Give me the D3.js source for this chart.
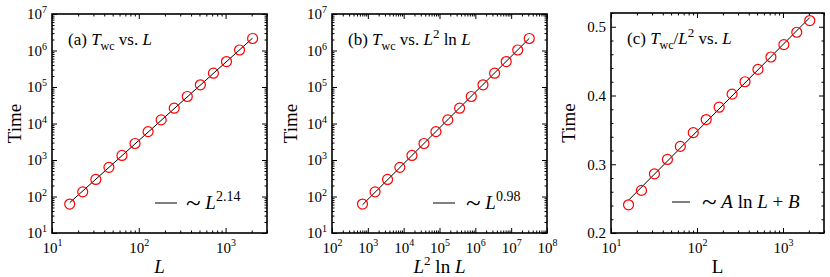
<!DOCTYPE html>
<html>
<head>
<meta charset="utf-8">
<script src="https://cdn.jsdelivr.net/npm/d3@7"></script>
<style>
body { margin: 0; background: #fff; }
text { font-family: "Liberation Serif", "Times New Roman", serif; }
</style>
</head>
<body>
<div id="chart"></div>
<script>
var sizeL = [16, 22.6, 32, 45.3, 64, 90.5, 128, 181, 256, 362, 512, 724, 1024, 1448, 2048];
var timeWC = [62, 134, 293, 629, 1335, 2830, 5980, 12550, 26300, 55000, 115000, 239000, 497000, 1032000, 2135000];
var ratioT = [0.241, 0.262, 0.286, 0.307, 0.326, 0.346, 0.365, 0.383, 0.402, 0.420, 0.438, 0.456, 0.474, 0.492, 0.509];
var expA = 2.14, expB = 0.98;
var yTicksC = [0.2, 0.3, 0.4, 0.5];

var svg = d3.select("#chart").append("svg")
    .attr("width", 830)
    .attr("height", 277);

function logTicks(dom) {
  var maj = [], min = [];
  for (var k = Math.floor(Math.log10(dom[0])); k <= Math.ceil(Math.log10(dom[1])); k++) {
    for (var m = 1; m < 10; m++) {
      var v = m * Math.pow(10, k);
      if (v < dom[0] * 0.999 || v > dom[1] * 1.001) continue;
      (m == 1 ? maj : min).push(v);
    }
  }
  return [maj, min];
}

// write text made of pieces: {t, i (italic), sub, sup, fs, dy}
function rich(sel, parts, fs) {
  sel.text(null);
  var shift = 0;
  parts.forEach(function(p) {
    var ts = sel.append("tspan").text(p.t);
    if (p.i) ts.attr("font-style", "italic");
    var target = p.sub ? 0.28 * fs : (p.sup ? -0.42 * fs : (p.dy || 0));
    if (target != shift) { ts.attr("dy", target - shift); shift = target; }
    if (p.sub || p.sup) ts.attr("font-size", p.fs || Math.round(fs * 0.7));
    else if (p.fs) ts.attr("font-size", p.fs);
  });
}

function powLabel(d) {
  var e = Math.round(Math.log10(d));
  rich(d3.select(this), [{t: "10"}, {t: String(e), sup: true, fs: 10}], 15);
}

function axes(g, x, y, w, h, xt, yt, ylab) {
  var list = [
    [d3.axisBottom(x), "translate(0," + h + ")", xt, true],
    [d3.axisTop(x), "translate(0,0)", xt, false],
    [d3.axisLeft(y), "translate(0,0)", yt, true],
    [d3.axisRight(y), "translate(" + w + ",0)", yt, false]
  ];
  list.forEach(function(a) {
    var ax = g.append("g").attr("transform", a[1]);
    ax.call(a[0].tickValues(a[2][1]).tickSize(-2.5).tickFormat(""));
    ax.select(".domain").remove();
    var mj = g.append("g").attr("transform", a[1]);
    mj.call(a[0].tickValues(a[2][0]).tickSize(-5).tickPadding(a[0] === list[0][0] ? 9 : 5).tickFormat(""));
    mj.select(".domain").remove();
    mj.attr("font-size", 15);
    if (!a[3]) { mj.selectAll("text").remove(); return; }
    if (a[0] === list[0][0]) mj.selectAll(".tick text").each(powLabel);
    else mj.selectAll(".tick text").each(ylab);
  });
  g.append("rect")
      .attr("width", w).attr("height", h)
      .attr("fill", "none").attr("stroke", "#000").attr("stroke-width", 1.6);
}

var tilde = {t: "~", fs: 27, dy: 3};
var panels = [
  {left: 52, top: 14, w: 215, h: 219, xdom: [10, 3000],
   xs: sizeL, title: [{t: "(a) "}, {t: "T", i: true}, {t: "wc", sub: true}, {t: " vs. "}, {t: "L", i: true}],
   xlab: [{t: "L", i: true}], tx: 21,
   leg: [tilde, {t: " "}, {t: "L", i: true}, {t: "2.14", sup: true, fs: 14}], lx: [103, 125, 134]},
  {left: 332, top: 14, w: 215, h: 219, xdom: [1e2, 1e8],
   xs: sizeL.map(function(L) { return L * L * Math.log(L); }),
   title: [{t: "(b) "}, {t: "T", i: true}, {t: "wc", sub: true}, {t: " vs. "}, {t: "L", i: true}, {t: "2", sup: true, fs: 13}, {t: " ln "}, {t: "L", i: true}],
   xlab: [{t: "L", i: true}, {t: "2", sup: true, fs: 13}, {t: " ln "}, {t: "L", i: true}], tx: 297,
   leg: [tilde, {t: " "}, {t: "L", i: true}, {t: "0.98", sup: true, fs: 14}], lx: [101, 123, 134]},
  {left: 611, top: 13, w: 213, h: 220, xdom: [10, 3000],
   xs: sizeL, title: [{t: "(c) "}, {t: "T", i: true}, {t: "wc", sub: true}, {t: "/"}, {t: "L", i: true}, {t: "2", sup: true, fs: 13}, {t: " vs. "}, {t: "L", i: true}],
   xlab: [{t: "L"}], tx: 575,
   leg: [tilde, {t: " "}, {t: "A", i: true}, {t: " ln "}, {t: "L", i: true}, {t: " + "}, {t: "B", i: true}], lx: [61, 79, 91]}
];

panels.forEach(function(p, i) {
  var g = svg.append("g").attr("transform", "translate(" + p.left + "," + p.top + ")");
  var x = d3.scaleLog().domain(p.xdom).range([0, p.w]);
  var y, ys, yt, ylab, fit;
  if (i < 2) {
    y = d3.scaleLog().domain([10, 1e7]).range([p.h, 0]);
    ys = timeWC;
    yt = logTicks([10, 1e7]);
    ylab = powLabel;
    var e = i == 0 ? expA : expB;
    var pre = d3.mean(p.xs, function(v, k) { return Math.log(ys[k]) - e * Math.log(v); });
    fit = function(v) { return Math.exp(pre) * Math.pow(v, e); };
  } else {
    y = d3.scaleLinear().domain([0.2, 0.52]).range([p.h, 0]);
    ys = ratioT;
    yt = [yTicksC, d3.range(0.22, 0.521, 0.02).filter(function(v) { return Math.abs(v * 10 - Math.round(v * 10)) > 0.01; })];
    ylab = function(d) { d3.select(this).text(d3.format(".1f")(d)); };
    var lx = p.xs.map(Math.log), mx = d3.mean(lx), my = d3.mean(ys);
    var A = d3.sum(lx, function(v, k) { return (v - mx) * (ys[k] - my); }) / d3.sum(lx, function(v) { return (v - mx) * (v - mx); });
    var B = my - A * mx;
    fit = function(v) { return A * Math.log(v) + B; };
  }

  axes(g, x, y, p.w, p.h, logTicks(p.xdom), yt, ylab);

  var ends = [p.xs[0], p.xs[p.xs.length - 1]];
  g.append("line")
      .attr("x1", x(ends[0])).attr("y1", y(fit(ends[0])))
      .attr("x2", x(ends[1])).attr("y2", y(fit(ends[1])))
      .attr("stroke", "#000").attr("stroke-width", 1);

  g.selectAll(".pt")
      .data(p.xs)
    .enter().append("circle")
      .attr("class", "pt")
      .attr("cx", function(d) { return x(d); })
      .attr("cy", function(d, k) { return y(ys[k]); })
      .attr("r", 5)
      .attr("fill", "none")
      .attr("stroke", "#ff0000")
      .attr("stroke-width", 1.2);

  rich(g.append("text").attr("x", 16).attr("y", 31).attr("font-size", 17), p.title, 17);

  g.append("line")
      .attr("x1", p.lx[0]).attr("x2", p.lx[1])
      .attr("y1", 189).attr("y2", 189)
      .attr("stroke", "#000").attr("stroke-width", 1);
  rich(g.append("text").attr("x", p.lx[2]).attr("y", 195).attr("font-size", 19), p.leg, 19);

  rich(svg.append("text").attr("x", p.left + p.w / 2).attr("y", 273)
      .attr("text-anchor", "middle").attr("font-size", 19), p.xlab, 19);

  svg.append("text")
      .attr("transform", "translate(" + p.tx + "," + (p.top + p.h / 2) + ") rotate(-90)")
      .attr("text-anchor", "middle")
      .attr("font-size", 19)
      .text("Time");
});
</script>
</body>
</html>
